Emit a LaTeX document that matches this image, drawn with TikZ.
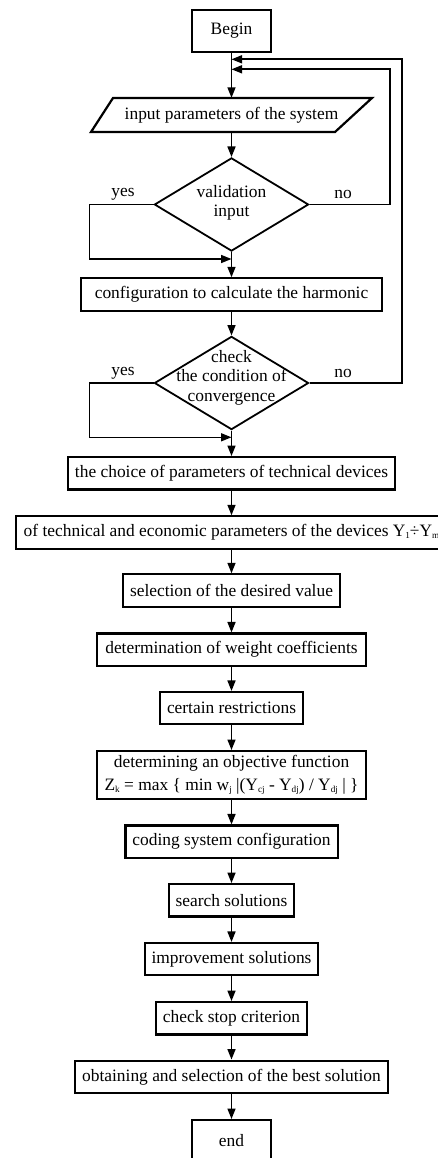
\documentclass[tikz,border=0pt]{standalone}
\usepackage{fontspec}
\setmainfont{Liberation Serif}
\usetikzlibrary{arrows.meta,shapes.geometric}
% small, lowered index letters
\newcommand\lowidx[1]{\raisebox{-1.8pt}{\fontsize{9.2}{10}\selectfont #1}}
\begin{document}
\begin{tikzpicture}[x=1pt,y=-1pt,
  font=\fontsize{17.4}{20}\selectfont,
  box/.style={draw,line width=2.2pt,inner sep=0pt,minimum height=32.3pt,align=center},
  term/.style={box,minimum width=78.6pt,minimum height=41.8pt},
  dec/.style={draw,diamond,line width=1.8pt,inner sep=0pt,minimum width=154.2pt,minimum height=93.2pt},
  dectext/.style={inner sep=0pt,align=center,font=\fontsize{17.4}{19.5}\selectfont},
  flow/.style={line width=1.6pt,-{Triangle[width=8pt,length=10.5pt]}},
  lbl/.style={inner sep=0pt}]
\useasboundingbox (0,0) rectangle (438,1158);

% start and input
\node[term] (begin) at (231.5,31) {Begin};
\node[inner sep=0pt,minimum width=220pt,minimum height=34pt] (input) at (231.5,115) {input parameters of the system};
\draw[line width=2.2pt] (113,98) -- (372,98) -- (335,132) -- (91,132) -- cycle;

% first decision
\node[dec] (d1) at (231.5,204.5) {};
\node[dectext] (d1t) at (231.5,203) {validation\\input};
\node[lbl] (yes1) at (123,194) {yes};
\node[lbl] (no1) at (343,194) {no};

\node[box,minimum width=300.6pt] (config) at (231.5,294.5) {configuration to calculate the harmonic};

% second decision
\node[dec] (d2) at (231.5,383) {};
\node[dectext] (d2t) at (231.5,377.5) {check\\the condition of\\convergence};
\node[lbl] (yes2) at (123,373) {yes};
\node[lbl] (no2) at (343,373) {no};

% process chain
\node[box,minimum width=327.6pt] (choice) at (231.5,473.3) {the choice of parameters of technical devices};
\node[box,minimum width=430.6pt] (tech) at (231.5,532.5) {of technical and economic parameters of the devices Y\lowidx{1}÷Y\lowidx{m}};
\node[box,minimum width=216.6pt] (sel) at (231.5,590.5) {selection of the desired value};
\node[box,minimum width=268.6pt] (weight) at (231.5,649.7) {determination of weight coefficients};
\node[box,minimum width=142.6pt] (restr) at (231.5,708.2) {certain restrictions};
\node[box,minimum width=269.6pt,minimum height=47.8pt,font=\fontsize{17.4}{22.7}\selectfont] (obj) at (231.5,775)
  {determining an objective function\\Z\lowidx{k} = max \{ min w\lowidx{j} |(Y\lowidx{cj} - Y\lowidx{dj}) / Y\lowidx{dj} | \}};
\node[box,minimum width=212.2pt] (coding) at (231.5,841.7) {coding system configuration};
\node[box,minimum width=125.2pt] (search) at (231.5,900.3) {search solutions};
\node[box,minimum width=173.1pt] (improve) at (231.5,959.2) {improvement solutions};
\node[box,minimum width=151.2pt] (stop) at (231.5,1018.3) {check stop criterion};
\node[box,minimum width=313.6pt] (best) at (231.5,1076.8) {obtaining and selection of the best solution};
\node[term] (end) at (231.5,1141) {end};

% junctions on the main line
\coordinate (j1) at (231.5,59.3);
\coordinate (j2) at (231.5,69.3);
\coordinate (n1) at (390,69.3);
\coordinate (n2) at (401.7,59.3);
\coordinate (y1) at (89.3,259);
\coordinate (m1) at (231.5,259);
\coordinate (y2) at (89.3,437.3);
\coordinate (m2) at (231.5,437.3);

% main flow
\draw[flow] (begin.south) -- (input.north);
\draw[flow] (input.south) -- (d1.north);
\draw[flow] (d1.south) -- (config.north);
\draw[flow] (config.south) -- (d2.north);
\draw[flow] (d2.south) -- (choice.north);
\draw[flow] (choice.south) -- (tech.north);
\draw[flow] (tech.south) -- (sel.north);
\draw[flow] (sel.south) -- (weight.north);
\draw[flow] (weight.south) -- (restr.north);
\draw[flow] (restr.south) -- (obj.north);
\draw[flow] (obj.south) -- (coding.north);
\draw[flow] (coding.south) -- (search.north);
\draw[flow] (search.south) -- (improve.north);
\draw[flow] (improve.south) -- (stop.north);
\draw[flow] (stop.south) -- (best.north);
\draw[flow] (best.south) -- (end.north);

% branches
\draw[flow] (d1.west) -| (y1) -- (m1);
\draw[flow] (d2.west) -| (y2) -- (m2);
\draw[flow] (d1.east) -| (n1) -- (j2);
\draw[flow] (d2.east) -| (n2) -- (j1);
\end{tikzpicture}
\end{document}
